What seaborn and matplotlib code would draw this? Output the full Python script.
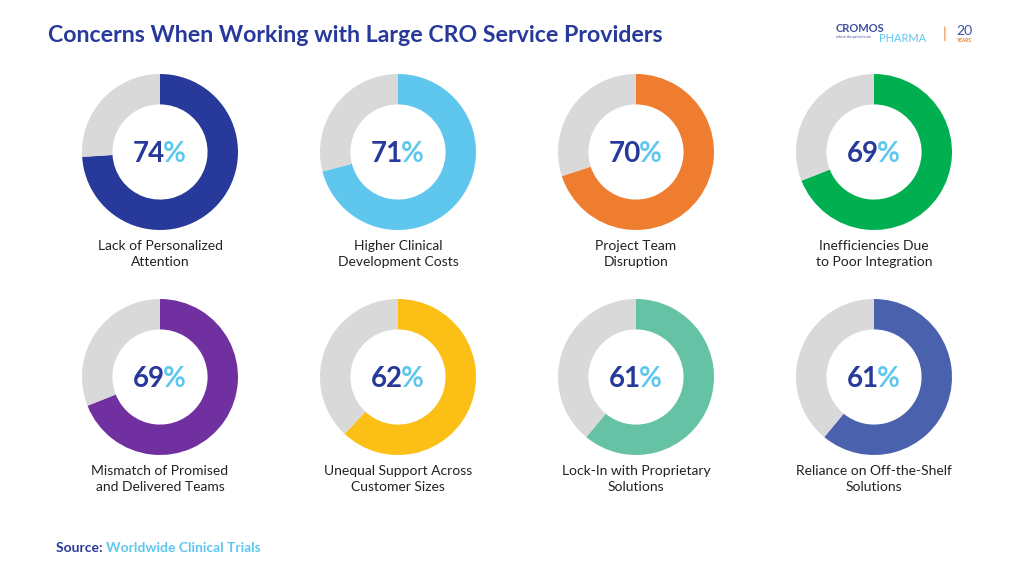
import matplotlib
matplotlib.use("Agg")
import matplotlib.pyplot as plt
import seaborn as sns

sns.set_theme(style="white")
plt.rcParams['font.family'] = ['Lato', 'DejaVu Sans']

labels = ['Lack of Personalized\nAttention', 'Higher Clinical\nDevelopment Costs',
          'Project Team\nDisruption', 'Inefficiencies Due\nto Poor Integration',
          'Mismatch of Promised\nand Delivered Teams', 'Unequal Support Across\nCustomer Sizes',
          'Lock-In with Proprietary\nSolutions', 'Reliance on Off-the-Shelf\nSolutions']
values = [74, 71, 70, 69, 69, 62, 61, 61]
colors = ['#27399A', '#5FC6EE', '#EE7D2F', '#00AF50', '#7030A0', '#FCBF16', '#66C2A5', '#4A62AD']
navy = '#27399A'
light_blue = '#5FC6EE'
gray = '#D9D9D9'

W, H = 1024, 576
fig = plt.figure(figsize=(10.24, 5.76), dpi=100)
fig.patch.set_facecolor('white')

col_x = [160, 398, 636, 874]
row_y = [152, 377]
r = 78

for i, (lab, v, c) in enumerate(zip(labels, values, colors)):
    cx = col_x[i % 4]
    cy = row_y[i // 4]
    ax = fig.add_axes([(cx - r) / W, 1 - (cy + r) / H, 2 * r / W, 2 * r / H])
    ax.pie([v, 100 - v], colors=[c, gray], startangle=90, counterclock=False,
           radius=1, wedgeprops=dict(width=0.39, linewidth=0))
    ax.set_xlim(-1, 1)
    ax.set_ylim(-1, 1)
    ax.set_aspect('equal')
    ax.axis('off')
    # percentage: number navy, % light blue
    fig.text(cx / W, 1 - (cy + 2) / H, str(v), ha='right', va='center',
             fontsize=20, fontweight='bold', color=navy)
    fig.text(cx / W - 0.002, 1 - (cy + 2) / H, '%', ha='left', va='center',
             fontsize=20, fontweight='bold', color=light_blue)
    fig.text(cx / W, 1 - (cy + 102) / H, lab, ha='center', va='center',
             fontsize=10, color='#222222', linespacing=1.35)

# adjust percent text so the whole string is centered
fig.canvas.draw()
renderer = fig.canvas.get_renderer()
texts = fig.texts
for k in range(len(values)):
    t_num = texts[3 * k]
    t_pct = texts[3 * k + 1]
    bw = t_num.get_window_extent(renderer).width
    pw = t_pct.get_window_extent(renderer).width
    shift = (bw - pw) / 2 / W
    x0, y0 = t_num.get_position()
    t_num.set_position((x0 + shift, y0))
    x1, y1 = t_pct.get_position()
    t_pct.set_position((x1 + shift, y1))

fig.text(48 / W, 1 - 35 / H, 'Concerns When Working with Large CRO Service Providers',
         ha='left', va='center', fontsize=16.7, fontweight='bold', color=navy)

# logo
fig.text(836 / W, 1 - 29 / H, 'CROMOS', ha='left', va='center', fontsize=8,
         fontweight='bold', color='#3D4F9F')
fig.text(836 / W, 1 - 37 / H, 'where the patients are', ha='left', va='center', fontsize=2.5,
         color='#3D4F9F')
fig.text(879 / W, 1 - 39 / H, 'PHARMA', ha='left', va='center', fontsize=8,
         color=light_blue)
fig.text(945 / W, 1 - 34 / H, '|', ha='center', va='center', fontsize=11, color='#EE7D2F')
fig.text(964 / W, 1 - 31 / H, '20', ha='center', va='center', fontsize=10,
         color='#3D4F9F')
fig.text(964 / W, 1 - 41 / H, 'YEARS', ha='center', va='center', fontsize=3.5,
         fontweight='bold', color='#EE7D2F')

# source
src = fig.text(56 / W, 1 - 548 / H, 'Source: ', ha='left', va='center', fontsize=10,
               fontweight='bold', color=navy)
fig.canvas.draw()
sw = src.get_window_extent(fig.canvas.get_renderer()).width
fig.text((56 + sw) / W, 1 - 548 / H, 'Worldwide Clinical Trials', ha='left', va='center',
         fontsize=10, fontweight='bold', color=light_blue)

fig.savefig('out.png', dpi=100, facecolor='white')
